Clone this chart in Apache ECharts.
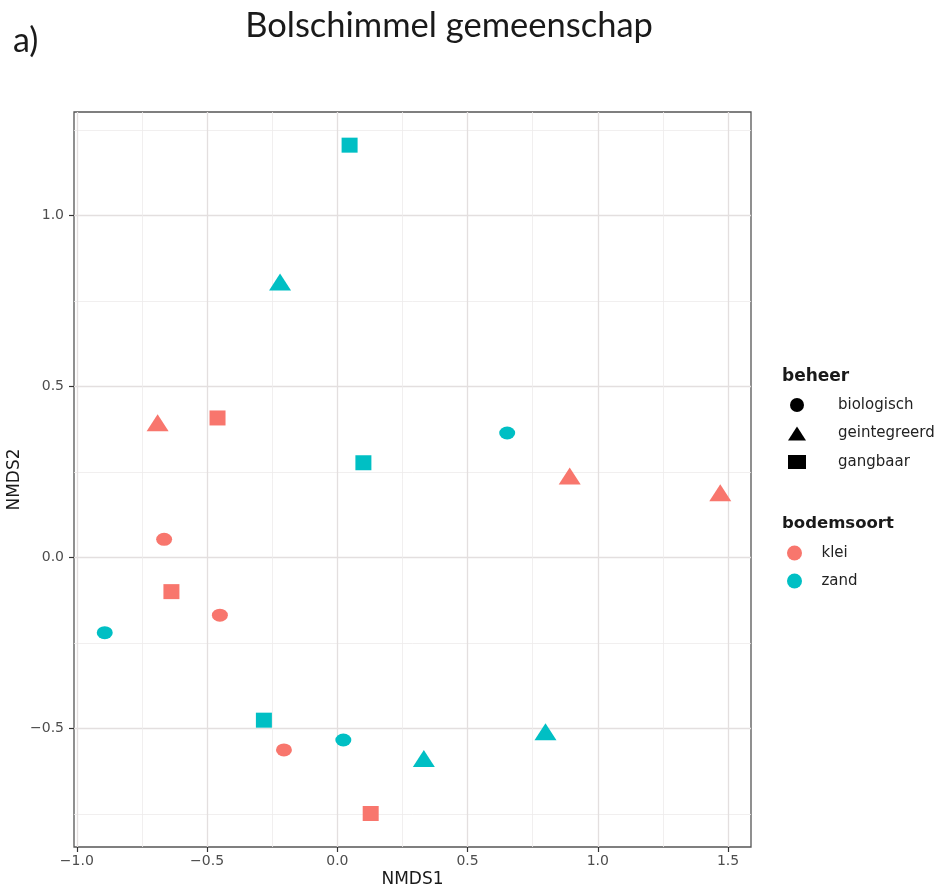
<!DOCTYPE html>
<html><head><meta charset="utf-8">
<script src="https://cdn.jsdelivr.net/npm/echarts@6/dist/echarts.min.js"></script>
<style>html,body{margin:0;padding:0;background:#fff}#c{width:937px;height:890px}</style>
</head><body><div id="c"></div>
<script>
// ---- data ----
const nmds1 = [0.047, -0.220, -0.690, -0.460, 0.100, 0.652, 0.892, 1.470, -0.665, -0.637, -0.451, -0.893, -0.282, -0.205, 0.023, 0.128, 0.799, 0.332];
const nmds2 = [1.206, 0.806, 0.394, 0.408, 0.277, 0.364, 0.238, 0.189, 0.053, -0.100, -0.169, -0.220, -0.476, -0.563, -0.534, -0.749, -0.510, -0.588];
const beheer = ['gangbaar','geintegreerd','geintegreerd','gangbaar','gangbaar','biologisch','geintegreerd','geintegreerd','biologisch','gangbaar','biologisch','biologisch','gangbaar','biologisch','biologisch','gangbaar','geintegreerd','geintegreerd'];
const bodemsoort = ['zand','zand','klei','klei','zand','zand','klei','klei','klei','klei','klei','zand','zand','klei','zand','klei','zand','zand'];
const beheerLevels = ['biologisch','geintegreerd','gangbaar'];
const bodemLevels = ['klei','zand'];
const xMajorTicks = [-1.0, -0.5, 0.0, 0.5, 1.0, 1.5];
const xMinorTicks = [-0.75, -0.25, 0.25, 0.75, 1.25];
const yMajorTicks = [-0.5, 0.0, 0.5, 1.0];
const yMinorTicks = [-0.75, -0.25, 0.25, 0.75, 1.25];
const xLimits = [-1.011, 1.588];
const yLimits = [-0.847, 1.303];

// ---- styles ----
const bodemColors = {klei:'#F8766D', zand:'#00BFC4'};
const beheerSymbols = {biologisch:'circle', geintegreerd:'triangle', gangbaar:'rect'};
const beheerSizes = {biologisch:[16,13], geintegreerd:[22,17], gangbaar:[16,15]};
const fmt = v => (v < 0 ? '\u2212' : '') + Math.abs(v).toFixed(1);
const tickFont = {fontFamily:'DejaVu Sans', fontSize:14, color:'#4d4d4d'};

const series = beheerLevels.map(b => ({
  type:'scatter', name:b, xAxisIndex:0, yAxisIndex:0,
  symbol: beheerSymbols[b], symbolSize: beheerSizes[b],
  itemStyle:{color:'#000', opacity:1},
  emphasis:{disabled:true},
  data: nmds1.map((x,i) => ({i, x})).filter(o => beheer[o.i] === b)
    .map(o => ({value:[o.x, nmds2[o.i]], itemStyle:{color: bodemColors[bodemsoort[o.i]], opacity:1}}))
}));
bodemLevels.forEach(s => series.push({
  type:'scatter', name:s, symbol:'circle', itemStyle:{color:bodemColors[s], opacity:1}, data:[]
}));

const chart = echarts.init(document.getElementById('c'), null, {renderer:'canvas'});
chart.setOption({
  animation:false,
  backgroundColor:'#fff',
  title:[
    {text:'Bolschimmel gemeenschap', left:449, top:8, textAlign:'center', padding:0,
     textStyle:{fontFamily:'Lato', fontSize:34.5, fontWeight:'normal', color:'#1a1a1a'}},
    {text:'a)', left:13, top:24, padding:0,
     textStyle:{fontFamily:'Lato', fontSize:34, fontWeight:'normal', color:'#1a1a1a'}},
    {text:'beheer', left:782, top:368, padding:0,
     textStyle:{fontFamily:'DejaVu Sans', fontSize:17, fontWeight:'bold', color:'#1a1a1a'}},
    {text:'bodemsoort', left:782, top:515, padding:0,
     textStyle:{fontFamily:'DejaVu Sans', fontSize:16.5, fontWeight:'bold', color:'#1a1a1a'}}
  ],
  legend:[
    {data:beheerLevels, orient:'vertical', left:788, top:397, itemWidth:18, itemHeight:14,
     itemGap:12.5, selectedMode:false, padding:0,
     textStyle:{fontFamily:'DejaVu Sans', fontSize:15, color:'#222', lineHeight:16, padding:[0,0,0,27]}},
    {data:bodemLevels, orient:'vertical', left:787, top:545, itemWidth:20, itemHeight:15,
     itemGap:12, selectedMode:false, padding:0,
     textStyle:{fontFamily:'DejaVu Sans', fontSize:15, color:'#222', lineHeight:16, padding:[0,0,0,12]}}
  ],
  grid:{left:74, right:186, top:112, bottom:43, show:true, borderColor:'#555', borderWidth:1.3,
        backgroundColor:'transparent', containLabel:false, outerBoundsMode:'none'},
  xAxis:[
    {type:'value', min:xLimits[0], max:xLimits[1],
     name:'NMDS1', nameLocation:'middle', nameGap:24, nameMoveOverlap:false,
     nameTextStyle:{fontFamily:'DejaVu Sans', fontSize:17, color:'#1a1a1a'},
     axisLine:{show:false, onZero:false},
     axisTick:{show:true, length:5, customValues:xMajorTicks, lineStyle:{color:'#333', width:1.2}},
     axisLabel:{customValues:xMajorTicks, formatter:fmt, margin:7, ...tickFont},
     splitLine:{show:true, lineStyle:{color:'#e3dfdf', width:1.3}}},
    {type:'value', min:xLimits[0], max:xLimits[1], position:'bottom',
     axisLine:{show:false, onZero:false}, axisLabel:{show:false},
     axisTick:{show:false, customValues:xMinorTicks},
     splitLine:{show:true, lineStyle:{color:'#eeebeb', width:0.8}}}
  ],
  yAxis:[
    {type:'value', min:yLimits[0], max:yLimits[1],
     name:'NMDS2', nameLocation:'middle', nameGap:51, nameMoveOverlap:false,
     nameTextStyle:{fontFamily:'DejaVu Sans', fontSize:17, color:'#1a1a1a'},
     axisLine:{show:false, onZero:false},
     axisTick:{show:true, length:5, customValues:yMajorTicks, lineStyle:{color:'#333', width:1.2}},
     axisLabel:{customValues:yMajorTicks, formatter:fmt, margin:10, ...tickFont},
     splitLine:{show:true, lineStyle:{color:'#e3dfdf', width:1.3}}},
    {type:'value', min:yLimits[0], max:yLimits[1], position:'left',
     axisLine:{show:false, onZero:false}, axisLabel:{show:false},
     axisTick:{show:false, customValues:yMinorTicks},
     splitLine:{show:true, lineStyle:{color:'#eeebeb', width:0.8}}}
  ],
  series: series
});
</script></body></html>
